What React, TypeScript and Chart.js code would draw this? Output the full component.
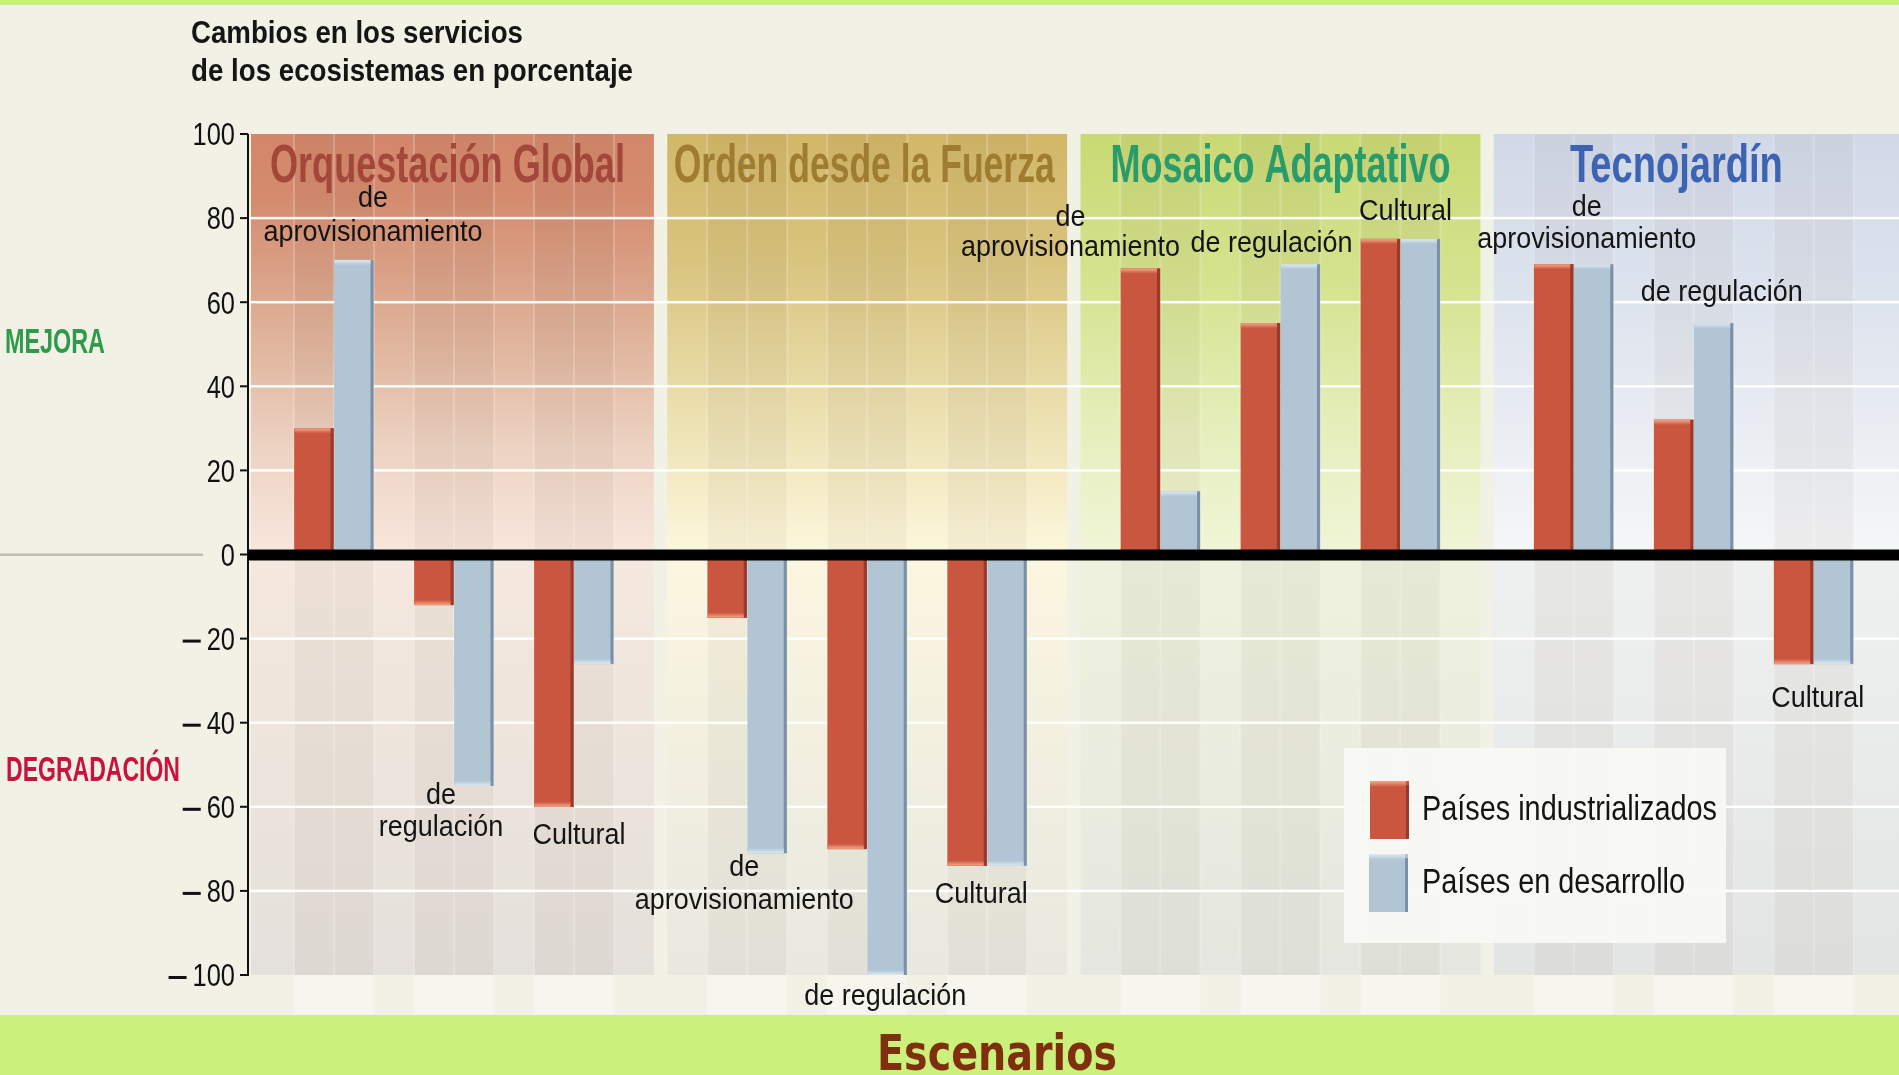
import React, { useEffect, useRef } from "react";
import { Chart, registerables } from "chart.js";

Chart.register(...registerables);

// ---------------- DATA ----------------
const scenarios = ["Orquestación Global", "Orden desde la Fuerza", "Mosaico Adaptativo", "Tecnojardín"];
const services = ["de aprovisionamiento", "de regulación", "Cultural"];
const seriesNames = ["Países industrializados", "Países en desarrollo"];
// order: scenario by scenario, service by service
const industrializados = [30, -12, -60, -15, -70, -74, 68, 55, 75, 69, 32, -26];
const enDesarrollo = [70, -55, -26, -71, -100, -74, 15, 69, 75, 69, 55, -26];
const yTicks = [100, 80, 60, 40, 20, 0, -20, -40, -60, -80, -100];
const titleLines = ["Cambios en los servicios", "de los ecosistemas en porcentaje"];
const sideLabels = ["MEJORA", "DEGRADACIÓN"];
const xTitle = "Escenarios";

// ---------------- STYLE ----------------
const FONT = "'Liberation Sans', Arial, sans-serif";
const VIEW_W = 1899;
const CANVAS_W = 1907; // plot area continues slightly past the visible right edge
const CANVAS_H = 1075;
const COLORS = {
  bg: "#F2F1E6",
  band: "#CBF07B",
  bar: ["#CA5640", "#B1C5D4"],
  edge: ["#983A2A", "#7A90A6"],
  cap: ["#F2A888", "#DDE9F2"],
  scenarioText: ["#A3473B", "#9E7D30", "#2A9C6B", "#3D63B3"],
  side: ["#2E9A4C", "#C8143C"],
  xTitle: "#7E300E",
};
const panelAbove = [
  [[0, "#D3866A"], [0.15, "#D48B6E"], [0.45, "#DEAF96"], [0.75, "#EDD3C3"], [1, "#F8E7DC"]],
  [[0, "#D2B767"], [0.3, "#D9C47E"], [0.65, "#EBDFAE"], [1, "#FDF7DC"]],
  [[0, "#C9D973"], [0.35, "#D5E38E"], [0.7, "#E6EEBB"], [1, "#F1F5D8"]],
  [[0, "#D1D9E8"], [0.4, "#DEE4EE"], [1, "#F5F6F7"]],
];
const panelBelow = [
  [[0, "#F5E8DE"], [1, "#E4E0DB"]],
  [[0, "#FBF6DF"], [1, "#E8E8E0"]],
  [[0, "#EEF2DD"], [1, "#E5E7E0"]],
  [[0, "#EFF0F0"], [1, "#E3E4E4"]],
];
const scenarioTitleWidth = [355, 381, 340, 213];
const scenarioTitleDx = [-5, -3, 0, -20];
// label layout per group: split lines, offsets (px) from group centre / bar end
const labelLayout = [
  { split: true, dx: 39, dy: -27, gap: 34 },
  { split: true, dx: -13, dy: 10, gap: 32 },
  { split: false, dx: 5, dy: 29, gap: 0 },
  { split: true, dx: -3, dy: 15, gap: 33 },
  { split: false, dx: 18, dy: 22, gap: 0 },
  { split: false, dx: -6, dy: 29, gap: 0 },
  { split: true, dx: -90, dy: -21, gap: 30 },
  { split: false, dx: -9, dy: -20, gap: 0 },
  { split: false, dx: 5, dy: -27, gap: 0 },
  { split: true, dx: 13, dy: -24, gap: 32 },
  { split: false, dx: 28, dy: -30, gap: 0 },
  { split: false, dx: 4, dy: 35, gap: 0 },
];

// ---------------- BUILD SLOTS ----------------
// each panel = 30 sub-slots of bars/columns (10 columns of 3) + 1 gap sub-slot
const SUB_PER_PANEL = 31;
const COL = 3;
const GROUP_STRIDE = 9;
const RED_SUB = 4;
const BLUE_SUB = 7;
const slotLabels: string[] = [];
const redSlots: (number | null)[] = [];
const blueSlots: (number | null)[] = [];
scenarios.forEach((sc, p) => {
  for (let s = 0; s < SUB_PER_PANEL; s++) {
    slotLabels.push(sc + " " + s);
    redSlots.push(null);
    blueSlots.push(null);
  }
  services.forEach((sv, g) => {
    const k = p * services.length + g;
    redSlots[p * SUB_PER_PANEL + RED_SUB + g * GROUP_STRIDE] = industrializados[k];
    blueSlots[p * SUB_PER_PANEL + BLUE_SUB + g * GROUP_STRIDE] = enDesarrollo[k];
  });
});

function drawText(
  ctx: CanvasRenderingContext2D,
  text: string,
  x: number,
  y: number,
  font: string,
  color: string,
  opts: { sx?: number; width?: number; align?: string; baseline?: CanvasTextBaseline } = {}
) {
  ctx.save();
  ctx.font = font;
  ctx.fillStyle = color;
  ctx.textBaseline = opts.baseline || "alphabetic";
  ctx.textAlign = "left";
  const mw = ctx.measureText(text).width;
  const sx = opts.width ? opts.width / mw : opts.sx || 1;
  const w = mw * sx;
  const left = opts.align === "center" ? x - w / 2 : opts.align === "right" ? x - w : x;
  ctx.translate(left, y);
  ctx.scale(sx, 1);
  ctx.fillText(text, 0, 0);
  ctx.restore();
  return w;
}

function grad(ctx: CanvasRenderingContext2D, y1: number, y2: number, stops: any[]) {
  const g = ctx.createLinearGradient(0, y1, 0, y2);
  stops.forEach(([o, c]) => g.addColorStop(o, c));
  return g;
}

const backgroundPlugin = {
  id: "background",
  beforeDraw(chart: any) {
    const { ctx, chartArea: a, scales } = chart;
    const x = scales.x;
    const y = scales.y;
    const W = chart.width;
    const H = chart.height;
    const sub = (a.right - a.left) / slotLabels.length;
    const axisX = a.left - 6;
    const y0 = y.getPixelForValue(0);
    const yTop = y.getPixelForValue(100);
    const yBot = y.getPixelForValue(-100);
    const bandTop = H - 60;
    const subLeft = (i: number) => x.getPixelForValue(i) - sub / 2;

    ctx.save();
    ctx.fillStyle = COLORS.bg;
    ctx.fillRect(0, 0, W, H);
    ctx.fillStyle = COLORS.band;
    ctx.fillRect(0, 0, W, 5);

    scenarios.forEach((sc, p) => {
      const base = p * SUB_PER_PANEL;
      const left = p === 0 ? axisX + 3 : subLeft(base);
      const right = p === scenarios.length - 1 ? W : subLeft(base + SUB_PER_PANEL - 1);
      ctx.fillStyle = grad(ctx, yTop, y0, panelAbove[p]);
      ctx.fillRect(left, yTop, right - left, y0 - yTop);
      ctx.fillStyle = grad(ctx, y0, yBot, panelBelow[p]);
      ctx.fillRect(left, y0, right - left, yBot - y0);
      // column stripes
      const nCols = (SUB_PER_PANEL - 1) / COL;
      for (let c = 0; c < nCols; c++) {
        const cl = Math.max(left, subLeft(base + c * COL));
        const cr = Math.min(right, subLeft(base + c * COL) + sub * COL);
        if (c % 3 !== 0) {
          ctx.fillStyle = "rgba(90,70,50,0.05)";
          ctx.fillRect(cl, yTop, cr - cl, yBot - yTop);
          ctx.fillStyle = "rgba(255,255,255,0.35)";
          ctx.fillRect(cl, yBot, cr - cl, bandTop - yBot);
        }
        if (c > 0) {
          ctx.fillStyle = "rgba(255,255,255,0.22)";
          ctx.fillRect(cl - 1, yTop, 2, yBot - yTop);
        }
      }
      // scenario title
      const mid = (left + Math.min(right, VIEW_W)) / 2 + scenarioTitleDx[p];
      drawText(ctx, sc, mid, 182, "bold 54px " + FONT, COLORS.scenarioText[p], {
        width: scenarioTitleWidth[p],
        align: "center",
      });
    });

    // grid lines
    ctx.fillStyle = "rgba(255,255,255,0.95)";
    yTicks.forEach((t) => {
      if (t === 0 || Math.abs(t) === 100) return;
      const py = y.getPixelForValue(t);
      ctx.fillRect(axisX, py - 1.25, W - axisX, 2.5);
    });

    // left grey baseline
    ctx.fillStyle = "#BEBDB4";
    ctx.fillRect(0, y0 - 1, 203, 2.5);

    // axis line + ticks
    ctx.fillStyle = "#111";
    ctx.fillRect(axisX - 1, yTop, 2, yBot - yTop + 1);
    yTicks.forEach((t) => {
      const py = y.getPixelForValue(t);
      ctx.fillRect(axisX - 8, py - 1, 8, 2);
      const digits = String(Math.abs(t));
      const w = drawText(ctx, digits, axisX - 13, py + 11.3, "31px " + FONT, "#111", {
        sx: 0.82,
        align: "right",
      });
      if (t < 0) {
        ctx.fillStyle = "#111";
        ctx.fillRect(axisX - 13 - w - 6 - 18, py + 1, 18, 3);
      }
    });

    // title
    drawText(ctx, titleLines[0], 191, 43, "bold 32px " + FONT, "#151515", { width: 332 });
    drawText(ctx, titleLines[1], 191, 81, "bold 32px " + FONT, "#151515", { width: 442 });

    // side labels
    drawText(ctx, sideLabels[0], 5, 353, "bold 35px " + FONT, COLORS.side[0], { width: 100 });
    drawText(ctx, sideLabels[1], 6, 781, "bold 35px " + FONT, COLORS.side[1], { width: 174 });

    // bottom band
    ctx.fillStyle = COLORS.band;
    ctx.fillRect(0, bandTop, W, H - bandTop);
    drawText(ctx, xTitle, 997, 1070, "bold 50px 'DejaVu Sans', sans-serif", COLORS.xTitle, {
      width: 240,
      align: "center",
    });
    ctx.restore();
  },
  afterDatasetsDraw(chart: any) {
    const { ctx, chartArea: a, scales } = chart;
    const y = scales.y;
    const W = chart.width;
    const axisX = a.left - 6;
    const y0 = y.getPixelForValue(0);
    ctx.save();
    const els: any[][] = [];
    chart.data.datasets.forEach((ds: any, di: number) => {
      const meta = chart.getDatasetMeta(di);
      els[di] = meta.data;
      meta.data.forEach((el: any, i: number) => {
        const v = ds.data[i];
        if (v == null) return;
        const { x: bx, y: by, base, width } = el.getProps(["x", "y", "base", "width"], true);
        const left = bx - width / 2;
        const right = bx + width / 2;
        const top = Math.min(by, base);
        const h = Math.abs(base - by);
        ctx.fillStyle = COLORS.edge[di];
        ctx.fillRect(right - 3, top, 3, h);
        const capY = v >= 0 ? by : by - 5;
        const g = ctx.createLinearGradient(0, capY, 0, capY + 5);
        g.addColorStop(v >= 0 ? 0 : 1, COLORS.cap[di]);
        g.addColorStop(v >= 0 ? 1 : 0, COLORS.bar[di]);
        ctx.fillStyle = g;
        ctx.fillRect(left, capY, width - 3, 5);
      });
    });

    // zero line
    ctx.fillStyle = "#000";
    ctx.fillRect(axisX, y0 - 5, W - axisX, 11);

    // service labels
    const nGroups = industrializados.length;
    for (let k = 0; k < nGroups; k++) {
      const p = Math.floor(k / services.length);
      const g = k % services.length;
      const rEl = els[0][p * SUB_PER_PANEL + RED_SUB + g * GROUP_STRIDE];
      const bEl = els[1][p * SUB_PER_PANEL + BLUE_SUB + g * GROUP_STRIDE];
      const cx = (rEl.x + bEl.x) / 2;
      const up = industrializados[k] + enDesarrollo[k] > 0;
      const ext = up ? Math.min(rEl.y, bEl.y) : Math.max(rEl.y, bEl.y);
      const L = labelLayout[k];
      const name = services[g];
      const lines = L.split && name.startsWith("de ") ? ["de", name.slice(3)] : [name];
      lines.forEach((ln, li) => {
        const ly = up ? ext + L.dy - (lines.length - 1 - li) * L.gap : ext + L.dy + li * L.gap;
        drawText(ctx, ln, cx + L.dx, ly, "29px " + FONT, "#141414", {
          sx: 0.93,
          align: "center",
          baseline: "middle",
        });
      });
    }

    // legend
    ctx.fillStyle = "rgba(249,249,245,0.93)";
    ctx.fillRect(1344, 748, 382, 195);
    const sw = [
      [1370, 781],
      [1369, 854],
    ];
    seriesNames.forEach((nm, di) => {
      const [sx, sy] = sw[di];
      ctx.fillStyle = COLORS.bar[di];
      ctx.fillRect(sx, sy, 39, 58);
      ctx.fillStyle = COLORS.edge[di];
      ctx.fillRect(sx + 36, sy + 4, 3, 54);
      const g = ctx.createLinearGradient(0, sy, 0, sy + 6);
      g.addColorStop(0, COLORS.cap[di]);
      g.addColorStop(1, COLORS.bar[di]);
      ctx.fillStyle = g;
      ctx.fillRect(sx, sy, 36, 6);
      drawText(ctx, chart.data.datasets[di].label, 1422, di === 0 ? 820 : 893, "35px " + FONT, "#141414", {
        width: di === 0 ? 295 : 263,
      });
    });
    ctx.restore();
  },
};

export default function App() {
  const ref = useRef<HTMLCanvasElement>(null);
  useEffect(() => {
    const canvas = ref.current;
    if (!canvas) return;
    const chart = new Chart(canvas, {
      type: "bar",
      data: {
        labels: slotLabels,
        datasets: [
          {
            label: seriesNames[0],
            data: redSlots,
            backgroundColor: COLORS.bar[0],
            borderWidth: 0,
            grouped: false,
            barThickness: 39,
          } as any,
          {
            label: seriesNames[1],
            data: blueSlots,
            backgroundColor: COLORS.bar[1],
            borderWidth: 0,
            grouped: false,
            barThickness: 39,
          } as any,
        ],
      },
      options: {
        animation: false,
        responsive: false,
        maintainAspectRatio: false,
        devicePixelRatio: 1,
        layout: { padding: { left: 254, right: 0, top: 134, bottom: 100 } },
        plugins: { legend: { display: false }, tooltip: { enabled: false } },
        scales: {
          x: { display: false },
          y: { display: false, min: -100, max: 100 },
        },
      },
      plugins: [backgroundPlugin],
    });
    return () => chart.destroy();
  }, []);
  return (
    <div style={{ position: "absolute", left: 0, top: 0, width: VIEW_W, height: CANVAS_H, overflow: "hidden" }}>
      <canvas
        ref={ref}
        width={CANVAS_W}
        height={CANVAS_H}
        style={{ display: "block", width: CANVAS_W, height: CANVAS_H }}
      />
    </div>
  );
}
